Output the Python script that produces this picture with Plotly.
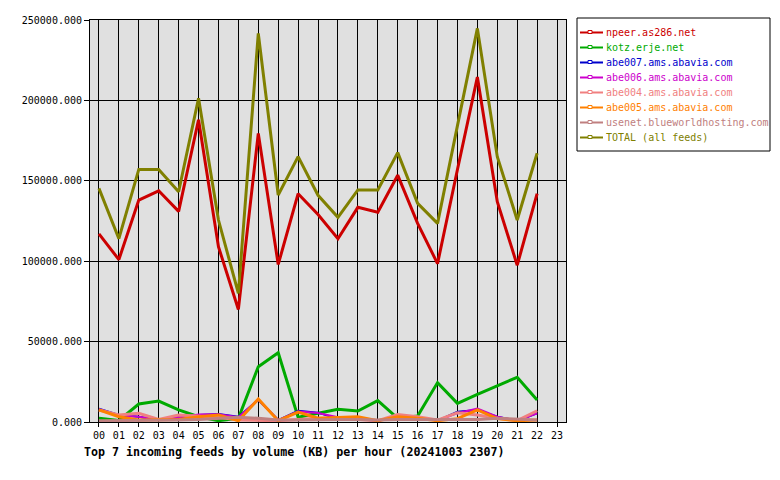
import plotly.graph_objects as go

hours = ["%02d" % h for h in range(23)]
all_hours = ["%02d" % h for h in range(24)]

npeer = [117000, 101000, 138000, 143800, 131000, 188000, 109000, 70000, 179500, 98000,
         142000, 129000, 114000, 133500, 130500, 153500, 123500, 98500, 157000, 214500,
         137000, 97500, 142000]
kotz = [2300, 1000, 11200, 13000, 7500, 3300, 800, 2300, 34400, 43100,
        2900, 5400, 7900, 6800, 13300, 2300, 3700, 24500, 11600, 17200,
        22400, 27800, 13700]
abe007 = [8300, 4400, 3300, 1200, 2900, 4400, 5000, 3300, 13700, 1200,
          7000, 5800, 1900, 1700, 800, 3300, 2900, 800, 6400, 7500,
          3300, 800, 5400]
abe006 = [8000, 4200, 3300, 1200, 2900, 4600, 4800, 3000, 14000, 1200,
          6500, 5600, 3000, 2000, 800, 3500, 2900, 800, 5500, 8300,
          3300, 800, 5400]
abe004 = [7500, 4400, 5400, 1600, 4400, 3700, 3000, 1200, 1200, 800,
          1600, 2300, 2300, 1600, 800, 4600, 3300, 1200, 5800, 4400,
          2300, 800, 7000]
abe005 = [7500, 3300, 1200, 1200, 1600, 3300, 4400, 800, 14300, 800,
          6200, 2300, 2900, 3300, 800, 3300, 2300, 800, 2100, 7500,
          2100, 800, 1200]
usenet = [800, 800, 800, 800, 1200, 1600, 2300, 2900, 2300, 1200,
          1200, 1600, 1600, 1600, 1200, 1600, 1600, 1200, 1600, 1600,
          2300, 1600, 1200]
total = [145300, 114000, 157100, 157100, 143200, 201300, 125600, 80000, 241700, 141200,
         165000, 141000, 127300, 144300, 144300, 167500, 136000, 123500, 184300, 244800,
         165000, 125600, 167100]

series = [
    ("npeer.as286.net", npeer, "#cc0000", 3),
    ("kotz.erje.net", kotz, "#00aa00", 3),
    ("abe007.ams.abavia.com", abe007, "#0000cc", 2),
    ("abe006.ams.abavia.com", abe006, "#cc00cc", 2),
    ("abe004.ams.abavia.com", abe004, "#f08080", 3),
    ("abe005.ams.abavia.com", abe005, "#ff8000", 3),
    ("usenet.blueworldhosting.com", usenet, "#c08080", 3),
    ("TOTAL (all feeds)", total, "#808000", 3),
]

FONT = "DejaVu Sans Mono"
PL, PR, PT, PB = 90, 566, 20, 422
W, H = 780, 480


def px(x):
    return (x - PL) / (PR - PL)


def py(y):
    return (PB - y) / (PB - PT)


fig = go.Figure()
for name, vals, color, width in series:
    fig.add_trace(go.Scatter(x=hours, y=vals, name=name, mode="lines",
                             line=dict(color=color, width=width),
                             showlegend=False, hoverinfo="x+y+name"))

shapes = []
annotations = []
# legend box
shapes.append(dict(type="rect", xref="paper", yref="paper",
                   x0=px(577), x1=px(770), y0=py(18), y1=py(151),
                   line=dict(color="black", width=1), fillcolor="white", layer="above"))
for i, (name, vals, color, width) in enumerate(series):
    yy = 32.5 + 15 * i
    shapes.append(dict(type="line", xref="paper", yref="paper",
                       x0=px(580), x1=px(603), y0=py(yy), y1=py(yy),
                       line=dict(color=color, width=2), layer="above"))
    shapes.append(dict(type="rect", xref="paper", yref="paper",
                       x0=px(588), x1=px(592), y0=py(yy - 2), y1=py(yy + 1),
                       line=dict(color=color, width=1), fillcolor="white", layer="above"))
    annotations.append(dict(xref="paper", yref="paper", x=px(604), y=py(yy),
                            xanchor="left", yanchor="middle", showarrow=False,
                            text=name, font=dict(family=FONT, size=10, color=color)))

annotations.append(dict(xref="paper", yref="paper", x=px(82), y=py(452),
                        xanchor="left", yanchor="middle", showarrow=False,
                        text="<b>Top 7 incoming feeds by volume (KB) per hour (20241003 2307)</b>",
                        font=dict(family=FONT, size=11.65, color="black")))

fig.update_layout(
    width=W, height=H,
    margin=dict(l=PL, r=W - PR, t=PT, b=H - PB, pad=0),
    paper_bgcolor="white", plot_bgcolor="#e0e0e0",
    font=dict(family=FONT, size=10, color="black"),
    shapes=shapes, annotations=annotations,
    showlegend=False,
)
fig.update_xaxes(type="category", categoryorder="array", categoryarray=all_hours,
                 tickvals=all_hours, ticktext=all_hours,
                 range=[-0.45, 23.45], showgrid=True, gridcolor="black", gridwidth=1,
                 showline=True, linecolor="black", linewidth=1, mirror=True,
                 ticks="outside", ticklen=4, tickcolor="black", zeroline=False,
                 tickfont=dict(family=FONT, size=10, color="black"))
fig.update_yaxes(range=[0, 250000], tickvals=[0, 50000, 100000, 150000, 200000, 250000],
                 tickformat=".3f", showgrid=True, gridcolor="black", gridwidth=1,
                 showline=True, linecolor="black", linewidth=1, mirror=True,
                 ticks="outside", ticklen=5, tickcolor="black", zeroline=False,
                 tickfont=dict(family=FONT, size=10, color="black"))

fig.write_html("out.html")
